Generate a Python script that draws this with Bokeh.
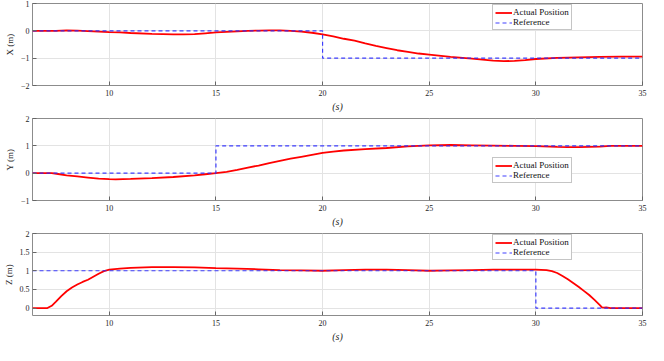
from bokeh.plotting import figure
from bokeh.layouts import column
from bokeh.models import FixedTicker, Legend, LegendItem, Range1d
from bokeh.embed import file_html
from bokeh.resources import INLINE

# ---- data ----
x_t = [6.4, 7, 7.5, 8, 8.5, 9, 9.5, 10, 10.5, 11, 12, 12.5, 13, 13.5, 14, 14.5, 15, 15.5, 16, 16.5, 17,
       17.5, 18, 18.5, 19, 19.5, 20, 20.5, 21, 21.5, 22, 22.5, 23, 23.5, 24, 24.5, 25, 26, 27, 28, 28.5,
       29, 29.5, 30, 31, 32, 33, 34, 35]
x_act = [0, 0, 0.0, 0.02, 0.01, -0.01, -0.03, -0.05, -0.06, -0.08, -0.11, -0.12, -0.13, -0.13, -0.12,
         -0.09, -0.06, -0.04, -0.02, 0.0, 0.01, 0.02, 0.02, 0.0, -0.03, -0.07, -0.13, -0.2, -0.29, -0.36,
         -0.46, -0.55, -0.63, -0.71, -0.77, -0.83, -0.87, -0.95, -1.02, -1.09, -1.11, -1.1, -1.07, -1.03,
         -0.99, -0.97, -0.95, -0.94, -0.94]
x_ref_t = [6.4, 20, 20, 35]
x_ref = [0, 0, -1, -1]

y_t = [6.4, 7.3, 7.6, 8, 8.5, 9, 9.5, 10, 10.3, 11, 12, 13, 14, 14.5, 15, 15.5, 16, 16.5, 17, 17.5, 18,
       18.5, 19, 19.5, 20, 20.5, 21, 22, 23, 24, 25, 26, 27, 28, 29, 30, 31, 31.5, 32, 32.5, 33, 33.5,
       34, 35]
y_act = [0, 0, -0.03, -0.08, -0.12, -0.16, -0.2, -0.22, -0.23, -0.21, -0.18, -0.14, -0.08, -0.04, 0.0,
         0.05, 0.12, 0.2, 0.28, 0.37, 0.45, 0.53, 0.6, 0.67, 0.74, 0.79, 0.83, 0.88, 0.92, 0.98, 1.02,
         1.03, 1.02, 1.01, 1.0, 0.99, 0.96, 0.95, 0.95, 0.96, 0.97, 1.0, 1.0, 1.0]
y_ref_t = [6.4, 15, 15, 35]
y_ref = [0, 0, 1, 1]

z_t = [6.4, 7.1, 7.3, 7.5, 7.75, 8, 8.25, 8.5, 8.75, 9, 9.25, 9.5, 9.75, 10, 10.5, 11, 12, 13, 14, 15,
       16, 17, 18, 19, 20, 21, 22, 23, 24, 25, 26, 27, 28, 29, 30, 30.5, 30.75, 31, 31.25, 31.5, 31.75,
       32, 32.25, 32.5, 32.75, 33, 33.1, 33.2, 33.3, 33.5, 35]
z_act = [0, 0, 0.06, 0.17, 0.32, 0.45, 0.55, 0.63, 0.7, 0.76, 0.84, 0.92, 0.99, 1.03, 1.06, 1.08, 1.1,
         1.1, 1.09, 1.07, 1.06, 1.04, 1.02, 1.01, 1.0, 1.02, 1.03, 1.03, 1.02, 1.0, 1.01, 1.02, 1.03,
         1.03, 1.03, 1.02, 0.99, 0.94, 0.86, 0.77, 0.67, 0.57, 0.46, 0.35, 0.22, 0.08, 0.02, 0.01, 0.02,
         0.0, 0.0]
z_ref_t = [6.4, 30, 30, 35]
z_ref = [1, 1, 0, 0]

x_ticks = [10, 15, 20, 25, 30, 35]
panels = [
    dict(t=x_t, a=x_act, rt=x_ref_t, r=x_ref, ylab="X (m)", yr=(-2, 1), yt=[-2, -1, 0, 1], leg=(460, 55)),
    dict(t=y_t, a=y_act, rt=y_ref_t, r=y_ref, ylab="Y (m)", yr=(-1, 2), yt=[-1, 0, 1, 2], leg=(460, 17)),
    dict(t=z_t, a=z_act, rt=z_ref_t, r=z_ref, ylab="Z (m)", yr=(-0.2, 2), yt=[0, 0.5, 1, 1.5, 2], leg=(460, 55)),
]

FONT = "Liberation Serif"
W, H = 648, 115
figs = []
for pdef in panels:
    p = figure(width=W, height=H, output_backend="svg", toolbar_location=None,
               x_range=Range1d(6.4, 35), y_range=Range1d(*pdef["yr"]),
               min_border_left=24, min_border_right=6, min_border_top=3, min_border_bottom=30)
    p.outline_line_color = "#8c8c8c"
    p.outline_line_width = 1
    p.background_fill_color = "white"
    p.border_fill_color = "white"
    p.xgrid.ticker = FixedTicker(ticks=x_ticks)
    p.ygrid.ticker = FixedTicker(ticks=pdef["yt"])
    for g in (p.xgrid, p.ygrid):
        g.grid_line_color = "#e3e3e3"
        g.grid_line_width = 1

    for ax, ticks in ((p.xaxis[0], x_ticks), (p.yaxis[0], pdef["yt"])):
        ax.ticker = FixedTicker(ticks=ticks)
        ax.axis_line_color = None
        ax.major_tick_in = 4
        ax.major_tick_out = 0
        ax.major_tick_line_color = "#666666"
        ax.minor_tick_line_color = None
        ax.major_label_text_font = FONT
        ax.major_label_text_font_size = "8px"
        ax.major_label_text_color = "#262626"
        ax.axis_label_text_font = FONT
        ax.axis_label_text_color = "#262626"
        ax.axis_label_text_font_style = "normal"
    p.xaxis[0].axis_label = "(s)"
    p.xaxis[0].axis_label_text_font_style = "italic"
    p.xaxis[0].axis_label_text_font_size = "10px"
    p.xaxis[0].major_label_standoff = 4
    p.xaxis[0].axis_label_standoff = 2
    p.yaxis[0].axis_label = pdef["ylab"]
    p.yaxis[0].axis_label_text_font_size = "9px"
    p.yaxis[0].major_label_standoff = 3
    p.yaxis[0].axis_label_standoff = 3

    r1 = p.line(pdef["t"], pdef["a"], line_color="#ff0000", line_width=1.8)
    r2 = p.line(pdef["rt"], pdef["r"], line_color="#2a2aff", line_width=1.2, line_dash="4 3",
                line_alpha=0.9)

    leg = Legend(items=[LegendItem(label="Actual Position", renderers=[r1]),
                        LegendItem(label="Reference", renderers=[r2])],
                 location=pdef["leg"])
    leg.label_text_font = FONT
    leg.label_text_font_size = "9px"
    leg.label_text_color = "#111111"
    leg.label_height = 9
    leg.label_standoff = 1
    leg.glyph_width = 17
    leg.glyph_height = 9
    leg.spacing = 0
    leg.padding = 2
    leg.margin = 0
    leg.border_line_color = "#8c8c8c"
    leg.border_line_width = 1
    leg.background_fill_alpha = 1
    p.add_layout(leg, "center")
    figs.append(p)

layout = column(*figs, spacing=0)
open("out.html", "w").write(file_html(layout, INLINE))
